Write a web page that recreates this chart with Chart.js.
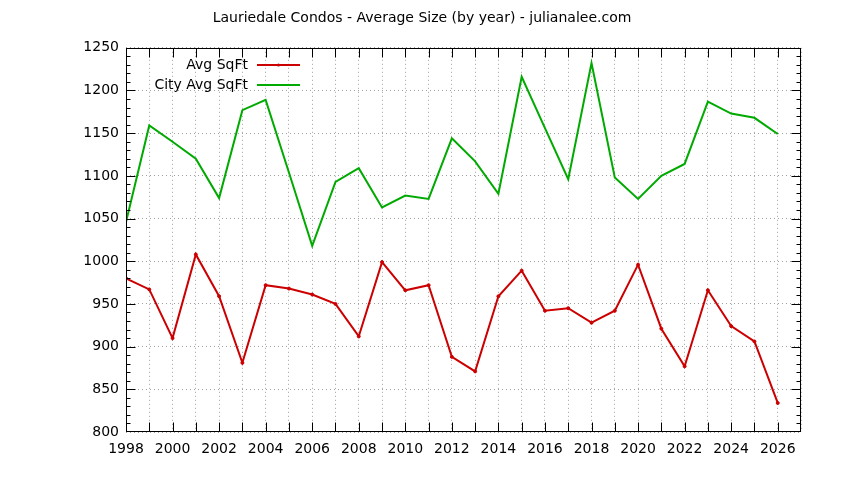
<!DOCTYPE html>
<html>
<head>
<meta charset="utf-8">
<script src="https://cdn.jsdelivr.net/npm/chart.js@4.4.0/dist/chart.umd.min.js"></script>
<style>
html, body { margin: 0; padding: 0; background: #fff; }
</style>
</head>
<body>
<canvas id="sizeChart" width="844" height="480"></canvas>
<script>
const years = [1998, 1999, 2000, 2001, 2002, 2003, 2004, 2005, 2006, 2007, 2008, 2009, 2010, 2011,
    2012, 2013, 2014, 2015, 2016, 2017, 2018, 2019, 2020, 2021, 2022, 2023, 2024, 2025, 2026];
const avgSqft = [980, 967, 910, 1008, 959, 881, 972, 968, 961, 950, 912, 999, 966, 972,
    888, 871, 959, 989, 942, 945, 928, 942, 996, 921, 877, 966, 924, 906, 834];
const cityAvgSqft = [1046, 1159, 1140, 1120, 1074, 1177, 1189, 1104, 1018, 1093, 1109, 1063, 1077, 1073,
    1144, 1117, 1079, 1216, 1156, 1096, 1232, 1098, 1073, 1100, 1114, 1187, 1173, 1168, 1149];
const xRange = [1998, 2027];
const yRange = [800, 1250];

const tickFont = { family: 'DejaVu Sans', size: 14 };

// gnuplot style frame: border all round, ticks pointing inwards
const frameTicks = {
    id: 'frameTicks',
    afterDraw(chart) {
        const ctx = chart.ctx;
        const a = chart.chartArea;
        const x = chart.scales.x, y = chart.scales.y;
        const L = Math.round(a.left) + 0.5, R = Math.round(a.right) - 0.5;
        const T = Math.round(a.top) + 0.5, B = Math.round(a.bottom) - 0.5;
        ctx.save();
        ctx.strokeStyle = '#000';
        ctx.lineWidth = 1;
        ctx.beginPath();
        for (let v = xRange[0] + 1; v < xRange[1]; v++) {
            const px = Math.round(x.getPixelForValue(v)) + 0.5;
            ctx.moveTo(px, B); ctx.lineTo(px, B - 9);
            ctx.moveTo(px, T); ctx.lineTo(px, T + 9);
        }
        for (let v = yRange[0] + 10; v < yRange[1]; v += 10) {
            const py = Math.round(y.getPixelForValue(v)) + 0.5;
            const len = v % 50 === 0 ? 9 : 4;
            ctx.moveTo(L, py); ctx.lineTo(L + len, py);
            ctx.moveTo(R, py); ctx.lineTo(R - len, py);
        }
        ctx.stroke();
        ctx.strokeRect(L, T, R - L, B - T);
        ctx.restore();
    }
};

// key drawn like gnuplot: label first, then the line sample
const keyBox = {
    id: 'keyBox',
    afterDraw(chart) {
        const ctx = chart.ctx;
        ctx.save();
        ctx.font = '14px "DejaVu Sans"';
        ctx.textAlign = 'right';
        ctx.textBaseline = 'middle';
        chart.data.datasets.forEach(function(ds, i) {
            const yy = 65 + i * 20;
            ctx.fillStyle = '#000';
            ctx.fillText(ds.label, 248, yy);
            ctx.strokeStyle = ds.borderColor;
            ctx.lineWidth = 2;
            ctx.beginPath();
            ctx.moveTo(257, yy); ctx.lineTo(300, yy);
            ctx.stroke();
            if (ds.pointRadius > 0) {
                ctx.fillStyle = ds.borderColor;
                ctx.beginPath();
                ctx.arc(278.5, yy, ds.pointRadius, 0, Math.PI * 2);
                ctx.fill();
            }
        });
        ctx.restore();
    }
};

const sizeCanvas = document.getElementById('sizeChart').getContext('2d');

const sizeChart = new Chart(sizeCanvas, {
    type: 'line',
    data: {
        datasets: [{
            label: 'Avg SqFt',
            data: years.map((yr, i) => ({ x: yr, y: avgSqft[i] })),
            borderColor: '#cc0000',
            backgroundColor: '#cc0000',
            borderWidth: 2,
            pointRadius: 1.5,
            pointHoverRadius: 1.5,
            pointBorderWidth: 1,
            tension: 0
        }, {
            label: 'City Avg SqFt',
            data: years.map((yr, i) => ({ x: yr, y: cityAvgSqft[i] })),
            borderColor: '#00aa00',
            backgroundColor: '#00aa00',
            borderWidth: 2,
            pointRadius: 0,
            pointHoverRadius: 0,
            tension: 0
        }]
    },
    options: {
        responsive: false,
        animation: false,
        layout: { padding: 0 },
        plugins: {
            legend: { display: false },
            tooltip: { enabled: false },
            title: {
                display: true,
                text: 'Lauriedale Condos - Average Size (by year) - julianalee.com',
                color: '#000',
                font: { family: 'DejaVu Sans', size: 14, weight: 'normal' },
                padding: { top: 10, bottom: 21 }
            }
        },
        scales: {
            x: {
                type: 'linear',
                min: xRange[0],
                max: xRange[1],
                afterFit: s => { s.height = 48; },
                ticks: {
                    stepSize: 1,
                    autoSkip: false,
                    maxRotation: 0,
                    color: '#000',
                    font: tickFont,
                    padding: 9,
                    callback: v => (v % 2 === 0 && v < xRange[1]) ? String(v) : ''
                },
                grid: { color: '#a0a0a0', drawTicks: false },
                border: { display: false, dash: [1, 3] }
            },
            y: {
                min: yRange[0],
                max: yRange[1],
                afterFit: s => { s.width = 126; },
                ticks: {
                    stepSize: 50,
                    color: '#000',
                    font: tickFont,
                    padding: 7,
                    callback: v => String(v)
                },
                grid: { color: '#a0a0a0', drawTicks: false },
                border: { display: false, dash: [1, 3] }
            },
            y2: {
                position: 'right',
                min: yRange[0],
                max: yRange[1],
                afterFit: s => { s.width = 43; },
                ticks: { display: false },
                grid: { drawOnChartArea: false, drawTicks: false },
                border: { display: false }
            }
        }
    },
    plugins: [frameTicks, keyBox]
});
</script>
</body>
</html>
